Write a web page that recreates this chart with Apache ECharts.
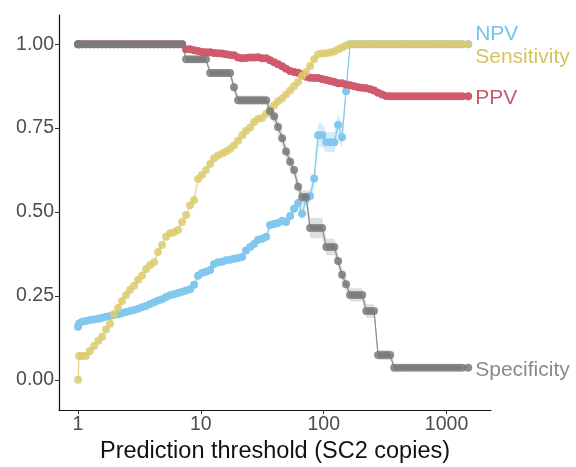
<!DOCTYPE html>
<html>
<head>
<meta charset="utf-8">
<script src="https://cdn.jsdelivr.net/npm/echarts@6/dist/echarts.min.js"></script>
<style>
  html, body { margin: 0; padding: 0; background: #fff; }
  #chart { width: 576px; height: 467px; }
</style>
</head>
<body>
<div id="chart"></div>
<script>
  // prediction thresholds (SC2 copies)
  var thresholds = [1, 1.02, 1.08, 1.16, 1.25, 1.35, 1.46, 1.57, 1.69, 1.82,
    1.96, 2.12, 2.28, 2.46, 2.65, 2.86, 3.08, 3.32, 3.58, 3.86,
    4.16, 4.48, 4.83, 5.21, 5.61, 6.05, 6.52, 7.03, 7.58, 8.17,
    8.8, 9.49, 10.2, 11, 11.9, 12.8, 13.8, 14.9, 16, 17.3,
    18.6, 20.1, 21.7, 23.3, 25.2, 27.1, 29.2, 31.5, 34, 36.6,
    39.5, 42.5, 45.9, 49.4, 53.3, 57.4, 61.9, 66.7, 71.9, 77.5,
    83.6, 90.1, 97.1, 105, 113, 122, 131, 141, 152, 164,
    177, 191, 206, 222, 239, 257, 277, 299, 322, 348,
    375, 404, 435, 469, 506, 545, 588, 633, 683, 736,
    793, 855, 921, 993, 1071, 1154, 1244, 1341, 1500];

  var sensitivity = [0, 0.071, 0.071, 0.071, 0.086, 0.101, 0.116, 0.128, 0.15, 0.167,
    0.195, 0.214, 0.235, 0.253, 0.268, 0.28, 0.298, 0.311, 0.33, 0.342,
    0.35, 0.381, 0.402, 0.426, 0.437, 0.44, 0.446, 0.47, 0.491, 0.52,
    0.536, 0.598, 0.61, 0.625, 0.643, 0.66, 0.668, 0.674, 0.68, 0.688,
    0.698, 0.712, 0.729, 0.741, 0.752, 0.768, 0.777, 0.78, 0.792, 0.806,
    0.818, 0.83, 0.838, 0.85, 0.862, 0.875, 0.887, 0.905, 0.917, 0.935,
    0.955, 0.97, 0.972, 0.973, 0.975, 0.978, 0.985, 0.99, 0.996, 1,
    1, 1, 1, 1, 1, 1, 1, 1, 1, 1,
    1, 1, 1, 1, 1, 1, 1, 1, 1, 1,
    1, 1, 1, 1, 1, 1, 1, 1, 1];

  var npv = [0.158, 0.168, 0.173, 0.175, 0.178, 0.18, 0.182, 0.185, 0.188, 0.19,
    0.193, 0.195, 0.198, 0.202, 0.205, 0.208, 0.212, 0.216, 0.22, 0.226,
    0.231, 0.236, 0.24, 0.247, 0.252, 0.255, 0.259, 0.262, 0.266, 0.27,
    0.283, 0.31, 0.318, 0.322, 0.327, 0.345, 0.35, 0.352, 0.356, 0.358,
    0.361, 0.363, 0.366, 0.385, 0.396, 0.405, 0.417, 0.42, 0.426, 0.461,
    0.464, 0.467, 0.474, 0.47, 0.488, 0.51, 0.527, 0.495, 0.54, 0.548,
    0.6, 0.729, 0.729, 0.708, 0.708, 0.708, 0.759, 0.723, 0.86, 1,
    1, 1, 1, 1, 1, 1, 1, 1, 1, 1,
    1, 1, 1, 1, 1, 1, 1, 1, 1, 1,
    1, 1, 1, 1, 1, 1, 1, 1, 1];

  var ppv = [1, 1, 1, 1, 1, 1, 1, 1, 1, 1,
    1, 1, 1, 1, 1, 1, 1, 1, 1, 1,
    1, 1, 1, 1, 1, 1, 1, 1, 0.985, 0.985,
    0.982, 0.98, 0.977, 0.976, 0.976, 0.974, 0.973, 0.972, 0.97, 0.968,
    0.967, 0.96, 0.958, 0.959, 0.96, 0.96, 0.961, 0.958, 0.958, 0.952,
    0.946, 0.94, 0.934, 0.927, 0.92, 0.917, 0.915, 0.91, 0.903, 0.9,
    0.899, 0.899, 0.896, 0.893, 0.89, 0.887, 0.884, 0.884, 0.88, 0.878,
    0.875, 0.872, 0.87, 0.869, 0.866, 0.862, 0.855, 0.85, 0.846, 0.845,
    0.845, 0.845, 0.845, 0.845, 0.845, 0.845, 0.845, 0.845, 0.845, 0.845,
    0.845, 0.845, 0.845, 0.845, 0.845, 0.845, 0.845, 0.845, 0.845];

  var specificity = [1, 1, 1, 1, 1, 1, 1, 1, 1, 1,
    1, 1, 1, 1, 1, 1, 1, 1, 1, 1,
    1, 1, 1, 1, 1, 1, 1, 1, 0.955, 0.955,
    0.955, 0.955, 0.955, 0.955, 0.914, 0.914, 0.914, 0.914, 0.914, 0.914,
    0.872, 0.833, 0.833, 0.833, 0.833, 0.833, 0.833, 0.833, 0.833, 0.8,
    0.785, 0.753, 0.72, 0.68, 0.65, 0.625, 0.575, 0.545, 0.545, 0.452,
    0.452, 0.452, 0.452, 0.396, 0.396, 0.396, 0.354, 0.313, 0.285, 0.253,
    0.253, 0.253, 0.253, 0.205, 0.205, 0.205, 0.074, 0.074, 0.074, 0.074,
    0.036, 0.036, 0.036, 0.036, 0.036, 0.036, 0.036, 0.036, 0.036, 0.036,
    0.036, 0.036, 0.036, 0.036, 0.036, 0.036, 0.036, 0.036, 0.036];

  // half-widths of the confidence ribbons
  var npvBand = [0.004, 0.004, 0.004, 0.004, 0.004, 0.004, 0.004, 0.004, 0.004, 0.004,
    0.004, 0.004, 0.004, 0.004, 0.004, 0.004, 0.004, 0.004, 0.004, 0.004,
    0.004, 0.004, 0.004, 0.004, 0.004, 0.004, 0.004, 0.004, 0.004, 0.004,
    0.004, 0.004, 0.004, 0.004, 0.004, 0.004, 0.004, 0.004, 0.004, 0.004,
    0.004, 0.008, 0.008, 0.008, 0.008, 0.008, 0.008, 0.008, 0.008, 0.012,
    0.012, 0.012, 0.012, 0.012, 0.012, 0.012, 0.012, 0.02, 0.02, 0.02,
    0.03, 0.035, 0.035, 0.03, 0.03, 0.03, 0.035, 0.035, 0.02, 0.003,
    0.003, 0.003, 0.003, 0.003, 0.003, 0.003, 0.003, 0.003, 0.003, 0.003,
    0.003, 0.003, 0.003, 0.003, 0.003, 0.003, 0.003, 0.003, 0.003, 0.003,
    0.003, 0.003, 0.003, 0.003, 0.003, 0.003, 0.003, 0.003, 0.003];

  var specBand = [0.004, 0.004, 0.004, 0.004, 0.004, 0.004, 0.004, 0.004, 0.004, 0.004,
    0.004, 0.004, 0.004, 0.004, 0.004, 0.004, 0.004, 0.004, 0.004, 0.004,
    0.004, 0.004, 0.004, 0.004, 0.004, 0.004, 0.004, 0.004, 0.006, 0.006,
    0.006, 0.006, 0.006, 0.006, 0.012, 0.012, 0.012, 0.012, 0.012, 0.012,
    0.015, 0.014, 0.014, 0.014, 0.014, 0.014, 0.014, 0.014, 0.014, 0.02,
    0.02, 0.02, 0.02, 0.02, 0.02, 0.02, 0.02, 0.02, 0.02, 0.03,
    0.03, 0.03, 0.03, 0.025, 0.025, 0.025, 0.02, 0.02, 0.02, 0.02,
    0.02, 0.02, 0.02, 0.02, 0.02, 0.02, 0.015, 0.015, 0.015, 0.015,
    0.006, 0.006, 0.006, 0.006, 0.006, 0.006, 0.006, 0.006, 0.006, 0.006,
    0.006, 0.006, 0.006, 0.006, 0.006, 0.006, 0.006, 0.006, 0.006];

  var xTicks = [1, 10, 100, 1000];
  var yTicks = [0, 0.25, 0.5, 0.75, 1];


  var chartDom = document.getElementById('chart');
  var myChart = echarts.init(chartDom, null, { renderer: 'canvas' });


  function pairs(vals) {
    return thresholds.map(function (t, i) { return [t, vals[i]]; });
  }

  // confidence ribbon as one polygon, placed through the axes
  function ribbon(vals, half, color) {
    return {
      type: 'custom', silent: true, z: 1,
      data: [[thresholds[0], vals[0]]],
      renderItem: function (params, api) {
        var upper = thresholds.map(function (t, i) { return api.coord([t, vals[i] + half[i]]); });
        var lower = thresholds.map(function (t, i) { return api.coord([t, vals[i] - half[i]]); }).reverse();
        return {
          type: 'polygon',
          shape: { points: upper.concat(lower) },
          style: { fill: color }
        };
      }
    };
  }

  function metric(name, vals, color, opacity, textColor, offset, z) {
    return {
      name: name, type: 'line', data: pairs(vals), z: z,
      symbol: 'circle', symbolSize: 8, showAllSymbol: true,
      lineStyle: { width: 1.2, color: color, opacity: opacity },
      itemStyle: { color: color, opacity: opacity },
      emphasis: { disabled: true },
      endLabel: {
        show: true,
        formatter: function () { return name; },
        color: textColor,
        fontSize: 21,
        distance: 7,
        offset: offset
      }
    };
  }


  var option = {
    animation: false,
    backgroundColor: '#ffffff',
    textStyle: { fontFamily: 'Liberation Sans, Arial, sans-serif' },
    grid: { left: 59, right: 85, top: 15, bottom: 57, containLabel: false, outerBoundsMode: 'none' },
    xAxis: {
      type: 'log', logBase: 10, min: 0.7, max: 2300,
      name: 'Prediction threshold (SC2 copies)',
      nameLocation: 'middle', nameGap: 30,
      nameTextStyle: { fontSize: 23.5, color: '#111' },
      axisLine: { onZero: false, lineStyle: { color: '#111', width: 1.2 } },
      axisTick: { length: 4, customValues: xTicks, lineStyle: { color: '#333' } },
      axisLabel: {
        fontSize: 19.5, color: '#4d4d4d', margin: 5,
        customValues: xTicks,
        formatter: function (v) { return String(Math.round(v)); }
      },
      splitLine: { show: false }, minorTick: { show: false }
    },
    yAxis: {
      type: 'value', min: -0.09, max: 1.087,
      axisLine: { show: true, lineStyle: { color: '#111', width: 1.2 } },
      axisTick: { show: true, length: 4, customValues: yTicks, lineStyle: { color: '#333' } },
      axisLabel: {
        fontSize: 19.5, color: '#4d4d4d', margin: 5,
        customValues: yTicks,
        formatter: function (v) { return v.toFixed(2); }
      },
      splitLine: { show: false }
    },
    series: [
      ribbon(specificity, specBand, 'rgba(150,150,150,0.3)'),
      ribbon(npv, npvBand, 'rgba(136,204,238,0.35)'),
      metric('NPV', npv, '#82c8ee', 1, '#77c3ea', [0, -10], 2),
      metric('PPV', ppv, '#d05a6c', 1, '#cc5a6c', [0, 2], 3),
      metric('Sensitivity', sensitivity, '#dccb6e', 0.85, '#d6c262', [0, 13], 4),
      metric('Specificity', specificity, '#7a7a7a', 0.85, '#8a8a8a', [0, 2], 5)
    ]
  };


  if (option && typeof option === 'object') {
    myChart.setOption(option);
  }


  window.addEventListener('resize', myChart.resize);
</script>
</body>
</html>
